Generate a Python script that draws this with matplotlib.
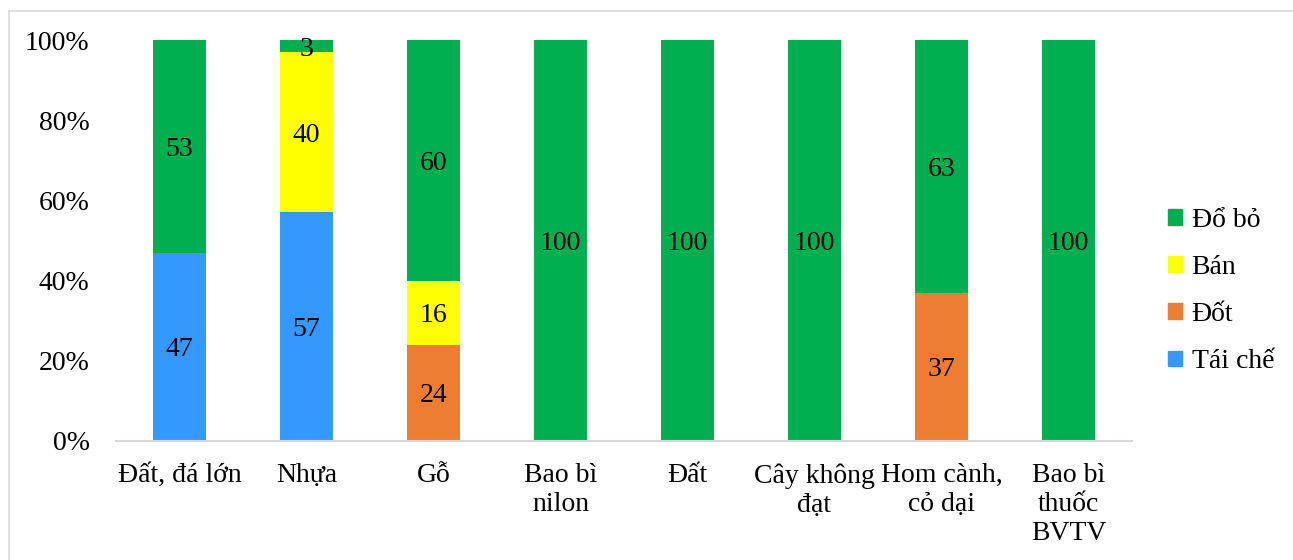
import matplotlib.pyplot as plt
import numpy as np
from matplotlib.lines import Line2D
from matplotlib.patches import Patch

plt.rcParams['font.family'] = ['Liberation Serif', 'DejaVu Serif']

categories = ['Đất, đá lớn', 'Nhựa', 'Gỗ', 'Bao bì\nnilon', 'Đất',
              'Cây không\nđạt', 'Hom cành,\ncỏ dại', 'Bao bì\nthuốc\nBVTV']
tai_che = [47, 57, 0, 0, 0, 0, 0, 0]
dot = [0, 0, 24, 0, 0, 0, 37, 0]
ban = [0, 40, 16, 0, 0, 0, 0, 0]
do_bo = [53, 3, 60, 100, 100, 100, 63, 100]

series = [('Tái chế', tai_che, '#3399FF'),
          ('Đốt', dot, '#ED7D31'),
          ('Bán', ban, '#FFFF00'),
          ('Đổ bỏ', do_bo, '#00B050')]

W, H = 1293, 560
fig = plt.figure(figsize=(W / 100, H / 100), dpi=100)
ax = fig.add_axes([116 / W, 1 - 441 / H, (1132 - 116) / W, (441 - 40) / H])

x = np.arange(len(categories))
bottom = np.zeros(len(categories))
fs = 20
for name, vals, color in series:
    vals = np.array(vals, dtype=float)
    ax.bar(x, vals, 0.41, bottom=bottom, color=color, label=name)
    for xi, b, v in zip(x, bottom, vals):
        if v > 0:
            ax.text(xi, b + v / 2, f'{v:g}', ha='center', va='center_baseline',
                    fontsize=fs, color='black')
    bottom += vals

ax.set_xlim(-0.5, len(categories) - 0.5)
ax.set_ylim(0, 100)
ax.set_yticks(np.arange(0, 101, 20))
ax.set_yticklabels([f'{v}%' for v in range(0, 101, 20)], fontsize=fs)
ax.set_xticks(x)
ax.set_xticklabels(categories, fontsize=fs, linespacing=1.2)
ax.tick_params(axis='y', length=0, pad=19)
ax.tick_params(axis='x', length=0, pad=16)
for s in ['top', 'right', 'left']:
    ax.spines[s].set_visible(False)
ax.spines['bottom'].set_color('#d9d9d9')
ax.spines['bottom'].set_linewidth(1.5)

handles = [Patch(color=c, label=n) for n, _, c in series[::-1]]
fig.legend(handles=handles, loc='center left',
           bbox_to_anchor=(1168 / W, 1 - 291 / H), frameon=False,
           fontsize=fs, handlelength=0.5, handleheight=0.5,
           handletextpad=0.35, labelspacing=0.8, borderpad=0,
           borderaxespad=0)

# thin frame around the chart area
fig.add_artist(Line2D([8.5 / W, 8.5 / W], [0, 1 - 10.5 / H],
                      transform=fig.transFigure, color='#d9d9d9', lw=1.2))
fig.add_artist(Line2D([8.5 / W, 1], [1 - 10.5 / H, 1 - 10.5 / H],
                      transform=fig.transFigure, color='#d9d9d9', lw=1.2))

fig.savefig('out.png', dpi=100)
